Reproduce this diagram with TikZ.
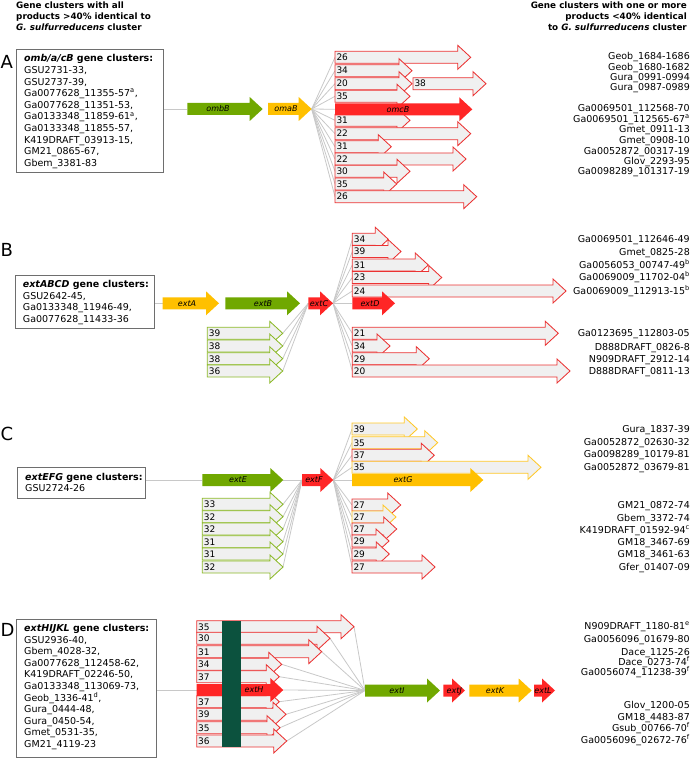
\documentclass[tikz,border=0pt]{standalone}
\usepackage{fontspec}
\setmainfont{DejaVu Sans}[BoldFont={DejaVu Sans Bold},ItalicFont={DejaVu Sans Oblique},BoldItalicFont={DejaVu Sans Bold Oblique}]
\usetikzlibrary{backgrounds}
\definecolor{cgreen}{RGB}{112,168,0}
\definecolor{cyellow}{RGB}{255,192,0}
\definecolor{cred}{RGB}{255,38,38}
\definecolor{ogreen}{RGB}{140,185,40}
\definecolor{ored}{RGB}{235,50,50}
\definecolor{oyellow}{RGB}{255,200,40}
\definecolor{ofill}{RGB}{240,240,240}
\definecolor{fanc}{RGB}{200,200,200}
\definecolor{barc}{RGB}{12,82,62}
\definecolor{boxc}{RGB}{110,110,110}
\tikzset{
 fan/.style={draw=fanc, line width=0.8pt},
 cbox/.style={draw=boxc, line width=0.8pt, inner sep=0, outer sep=0, anchor=north west},
 boxtext/.style={anchor=north west, inner sep=0, align=left, font=\fontsize{9.5}{11.6}\selectfont},
 rlab/.style={anchor=base east, inner sep=0, font=\fontsize{9.5}{11}\selectfont},
 numlab/.style={anchor=base west, inner sep=0, font=\fontsize{9}{10}\selectfont},
 genelab/.style={anchor=base, inner sep=0, font=\fontsize{8}{9}\selectfont\itshape},
 panel/.style={anchor=base west, inner sep=0, font=\fontsize{18}{20}\selectfont},
 hdr/.style={inner sep=0, font=\fontsize{8.8}{11}\selectfont\bfseries},
 arrbody/.style={minimum height=12pt, inner sep=0, outer sep=0, anchor=west, draw=none}
}
% name, colour, x left, x tip, y, text, label x
\newcommand\filledarr[7]{%
  \node[arrbody, minimum width={(#4)*1pt-(#3)*1pt}] (#1) at (#3,#5) {};
  \fill[#2] (#3,#5-6) -- (#4-13,#5-6) -- (#4-13,#5-12) -- (#4,#5) -- (#4-13,#5+12) -- (#4-13,#5+6) -- (#3,#5+6) -- cycle;
  \node[genelab] (#1-lab) at (#7,#5+2.9) {#6};
}
% name, colour, x left, x tip, y, number
\newcommand\outarr[6]{%
  \node[arrbody, minimum width={(#4)*1pt-(#3)*1pt}] (#1) at (#3,#5) {};
  \filldraw[fill=ofill, draw=#2, line width=0.85pt] (#3,#5-6) -- (#4-13,#5-6) -- (#4-13,#5-12) -- (#4,#5) -- (#4-13,#5+12) -- (#4-13,#5+6) -- (#3,#5+6) -- cycle;
  \node[numlab] (#1-n) at (#3+1.3,#5+3.3) {#6};
}
\begin{document}
\begin{tikzpicture}[x=1pt,y=-1pt]
\useasboundingbox (0,0) rectangle (691,759);
% headers
\node[hdr, anchor=north west, align=left] (hdrL) at (16,1.5) {Gene clusters with all\\products >40\% identical to\\\textit{G. sulfurreducens} cluster};
\node[hdr, anchor=north east, align=right] (hdrR) at (687,1.5) {Gene clusters with one or more\\products <40\% identical\\to \textit{G. sulfurreducens} cluster};
% panel letters
\node[panel] (pA) at (0.5,68.3) {A};
\node[panel] (pB) at (0.5,256) {B};
\node[panel] (pC) at (0.5,440) {C};
\node[panel] (pD) at (0.5,636) {D};
% ---------------- A ----------------
\node[cbox, minimum width=147pt, minimum height=122.7pt] (boxA) at (16,49.3) {};
\node[boxtext] (txtA) at (24,54.5) {\textbf{\textit{omb/a/cB} gene clusters:}\\GSU2731-33,\\GSU2737-39,\\Ga0077628\_11355-57\textsuperscript{a},\\Ga0077628\_11351-53,\\Ga0133348\_11859-61\textsuperscript{a},\\Ga0133348\_11855-57,\\K419DRAFT\_03913-15,\\GM21\_0865-67,\\Gbem\_3381-83};
\filledarr{ombB}{cgreen}{187.3}{262.7}{109}{ombB}{218}
\filledarr{omaB}{cyellow}{268}{311.7}{109}{omaB}{286}
\outarr{a1}{ored}{335}{470.7}{57.3}{26}
\outarr{a2}{ored}{335}{412}{70.7}{34}
\outarr{a3}{ored}{335}{412}{83.7}{20}
\outarr{a3b}{ored}{413}{486}{83.7}{38}
\outarr{a4}{ored}{335}{410}{96.3}{35}
\outarr{a5}{ored}{335}{410}{120.3}{31}
\outarr{a6}{ored}{335}{470.7}{133.7}{22}
\outarr{a7}{ored}{335}{391.3}{146.7}{31}
\outarr{a8}{ored}{335}{466}{159}{22}
\outarr{a9}{ored}{335}{410}{171.3}{30}
\outarr{a10}{ored}{335}{396.7}{184}{35}
\outarr{a11}{ored}{335}{476.7}{196.7}{26}
\filledarr{omcB}{cred}{335}{472.3}{109.3}{omcB}{398}
\begin{scope}[on background layer]
  \draw[fan] (boxA.east |- ombB.west) -- (ombB.west);
  \foreach \n in {a1,a2,a3,a4,omcB,a5,a6,a7,a8,a9,a10,a11} \draw[fan] (omaB.east) -- (\n.west);
\end{scope}
\foreach \y/\t [count=\i] in {56/Geob\_1684-1686, 66.7/Geob\_1680-1682, 77.3/Gura\_0991-0994, 87.3/Gura\_0987-0989, 108.3/Ga0069501\_112568-70, 119.3/Ga0069501\_112565-67\textsuperscript{a}, 129.3/Gmet\_0911-13, 140/Gmet\_0908-10, 150.7/Ga0052872\_00317-19, 160.7/Glov\_2293-95, 171/Ga0098289\_101317-19}
  \node[rlab] (rA\i) at (690,\y+3.5) {\t};
% ---------------- B ----------------
\node[cbox, minimum width=139.3pt, minimum height=52.6pt] (boxB) at (15,275.7) {};
\node[boxtext] (txtB) at (22.7,280.2) {\textbf{\textit{extABCD} gene clusters:}\\GSU2642-45,\\Ga0133348\_11946-49,\\Ga0077628\_11433-36};
\filledarr{extA}{cyellow}{162.7}{219}{303.3}{extA}{187}
\filledarr{extB}{cgreen}{225.3}{300}{303.3}{extB}{263}
\filledarr{extC}{cred}{308.3}{333}{303.3}{extC}{319}
\outarr{bg1}{ogreen}{207.3}{282.7}{333.3}{39}
\outarr{bg2}{ogreen}{207.3}{282.7}{346}{38}
\outarr{bg3}{ogreen}{207.3}{282.7}{358.7}{38}
\outarr{bg4}{ogreen}{207.3}{282.7}{371}{36}
\outarr{br1}{ored}{352.3}{388.3}{239.3}{34}
\outarr{br2}{ored}{352.3}{401}{251.5}{39}
\outarr{br3}{ored}{352.3}{428.3}{265}{31}
\outarr{br4}{ored}{352.3}{441.7}{277.5}{23}
\outarr{br5}{ored}{352.3}{566}{291}{24}
\outarr{br6}{ored}{352.3}{558.3}{333.3}{21}
\outarr{br7}{ored}{352.3}{390}{346}{34}
\outarr{br8}{ored}{352.3}{429.3}{358.7}{29}
\outarr{br9}{ored}{352.3}{570}{371}{20}
\filledarr{extD}{cred}{352.3}{395}{303.3}{extD}{370}
\begin{scope}[on background layer]
  \draw[fan] (boxB.east |- extA.west) -- (extA.west);
  \foreach \n in {bg1,bg2,bg3,bg4} \draw[fan] (extC.west) -- (\n.east);
  \foreach \n in {br1,br2,br3,br4,br5,extD,br6,br7,br8,br9} \draw[fan] (extC.east) -- (\n.west);
\end{scope}
\foreach \y/\t [count=\i] in {239.3/Ga0069501\_112646-49, 251.5/Gmet\_0825-28, 264.5/Ga0056053\_00747-49\textsuperscript{b}, 277.3/Ga0069009\_11702-04\textsuperscript{b}, 290.5/Ga0069009\_112913-15\textsuperscript{b}, 333.3/Ga0123695\_112803-05, 346.5/D888DRAFT\_0826-8, 359/N909DRAFT\_2912-14, 371/D888DRAFT\_0811-13}
  \node[rlab] (rB\i) at (690,\y+3.5) {\t};
% ---------------- C ----------------
\node[cbox, minimum width=128.4pt, minimum height=30.6pt] (boxC) at (17.3,467.7) {};
\node[boxtext] (txtC) at (25,472.9) {\textbf{\textit{extEFG} gene clusters:}\\GSU2724-26};
\filledarr{extE}{cgreen}{202.3}{283.3}{480}{extE}{238}
\filledarr{extF}{cred}{302}{333.3}{480}{extF}{314}
\outarr{cg1}{ogreen}{202.3}{283}{504.3}{33}
\outarr{cg2}{ogreen}{202.3}{283}{516.7}{32}
\outarr{cg3}{ogreen}{202.3}{283}{529}{32}
\outarr{cg4}{ogreen}{202.3}{283}{541.7}{31}
\outarr{cg5}{ogreen}{202.3}{283}{554}{31}
\outarr{cg6}{ogreen}{202.3}{283}{567}{32}
\outarr{cr1}{oyellow}{352}{417.3}{429}{39}
\outarr{cr2}{oyellow}{352}{437.7}{442.7}{35}
\outarr{cr3}{ored}{352}{434.3}{455.3}{37}
\outarr{cr4}{oyellow}{352}{541}{467.3}{35}
\outarr{cr5}{ored}{352}{400.7}{505}{27}
\outarr{cr6}{oyellow}{352}{396}{517}{27}
\outarr{cr7}{ored}{352}{396.7}{529}{27}
\outarr{cr8}{ored}{352}{389}{541}{29}
\outarr{cr9}{ored}{352}{389.3}{554}{29}
\outarr{cr10}{ored}{352}{435}{567}{27}
\filledarr{extG}{cyellow}{352}{483.3}{480}{extG}{403}
\begin{scope}[on background layer]
  \draw[fan] (boxC.east |- extE.west) -- (extE.west);
  \draw[fan] (extE.east) -- (extF.west);
  \foreach \n in {cg1,cg2,cg3,cg4,cg5,cg6} \draw[fan] (extF.west) -- (\n.east);
  \foreach \n in {cr1,cr2,cr3,cr4,extG,cr5,cr6,cr7,cr8,cr9,cr10} \draw[fan] (extF.east) -- (\n.west);
\end{scope}
\foreach \y/\t [count=\i] in {429/Gura\_1837-39, 441.7/Ga0052872\_02630-32, 454.3/Ga0098289\_10179-81, 467.3/Ga0052872\_03679-81, 505/GM21\_0872-74, 517.5/Gbem\_3372-74, 530/K419DRAFT\_01592-94\textsuperscript{c}, 541.7/GM18\_3467-69, 554.3/GM18\_3461-63, 567.3/Gfer\_01407-09}
  \node[rlab] (rC\i) at (690,\y+3.5) {\t};
% ---------------- D ----------------
\node[cbox, minimum width=139.3pt, minimum height=138.3pt] (boxD) at (16.7,619) {};
\node[boxtext] (txtD) at (24,624) {\textbf{\textit{extHIJKL} gene clusters:}\\GSU2936-40,\\Gbem\_4028-32,\\Ga0077628\_112458-62,\\K419DRAFT\_02246-50,\\Ga0133348\_113069-73,\\Geob\_1336-41\textsuperscript{d},\\Gura\_0444-48,\\Gura\_0450-54,\\Gmet\_0531-35,\\GM21\_4119-23};
\outarr{d1}{ored}{196.7}{354}{626.7}{35}
\outarr{d2}{ored}{196.7}{330}{638.3}{30}
\outarr{d3}{ored}{196.7}{321.7}{651.7}{31}
\outarr{d4}{ored}{196.7}{281.7}{664.3}{34}
\outarr{d5}{ored}{196.7}{279.3}{676.7}{37}
\outarr{d6}{ored}{196.7}{279.3}{701.7}{37}
\outarr{d7}{ored}{196.7}{286}{714.3}{39}
\outarr{d8}{ored}{196.7}{280}{727.7}{35}
\outarr{d9}{ored}{196.7}{286.7}{741}{36}
\filledarr{extH}{cred}{196.7}{283.3}{690}{}{254}
\node[fill=barc, minimum width=18.4pt, minimum height=126.3pt, anchor=north west, inner sep=0, outer sep=0] (hbar) at (222.3,620.7) {};
\node[genelab] (extHname) at (254,692.9) {extH};
\filledarr{extI}{cgreen}{365}{440}{690.5}{extI}{397}
\filledarr{extJ}{cred}{443.3}{465}{690.5}{extJ}{454.3}
\filledarr{extK}{cyellow}{469.3}{531.7}{690.5}{extK}{495}
\filledarr{extL}{cred}{534}{555}{690.5}{extL}{543}
\begin{scope}[on background layer]
  \draw[fan] (boxD.east |- extH.west) -- (extH.west);
  \foreach \n in {d1,d2,d3,d4,d5,extH,d6,d7,d8,d9} \draw[fan] (\n.east) -- (extI.west);
\end{scope}
\foreach \y/\t [count=\i] in {626/N909DRAFT\_1180-81\textsuperscript{e}, 639.3/Ga0056096\_01679-80, 651.7/Dace\_1125-26, 662.3/Dace\_0273-74\textsuperscript{f}, 672.3/Ga0056074\_11238-39\textsuperscript{f}, 705/Glov\_1200-05, 716.7/GM18\_4483-87, 728.3/Gsub\_00766-70\textsuperscript{f}, 740/Ga0056096\_02672-76\textsuperscript{f}}
  \node[rlab] (rD\i) at (690,\y+3.5) {\t};
\end{tikzpicture}
\end{document}
